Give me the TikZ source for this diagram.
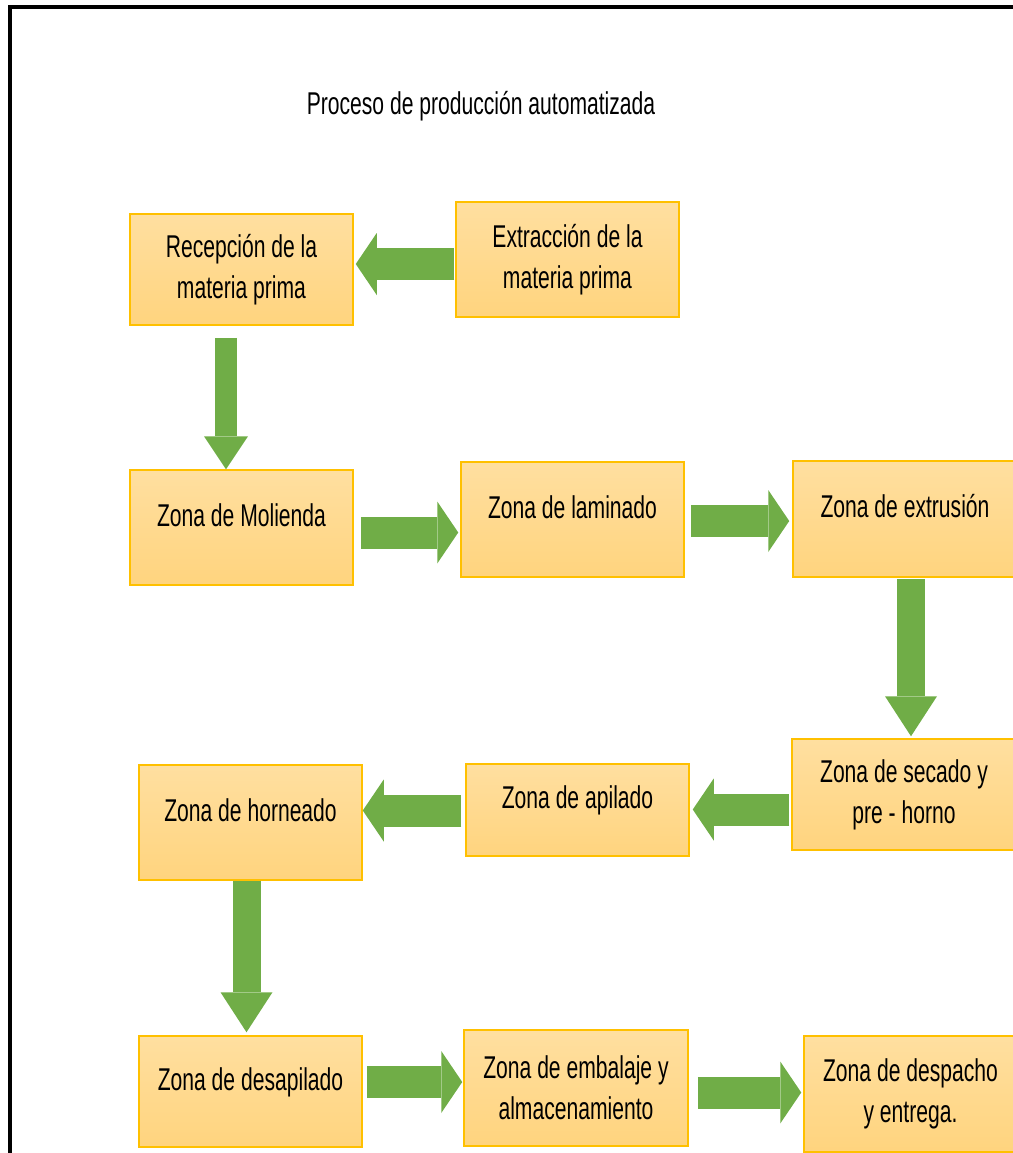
\documentclass[tikz,border=0pt]{standalone}
\usepackage{fontspec}
\setmainfont{Liberation Sans}[FakeStretch=0.67]
\usetikzlibrary{arrows.meta}
\definecolor{verde}{HTML}{70AD47}
\definecolor{oroborde}{HTML}{FFC000}
\definecolor{oroarriba}{HTML}{FFDFA0}
\definecolor{oroabajo}{HTML}{FFD47E}
\tikzset{
  zona/.style={draw=oroborde, line width=0.75pt, top color=oroarriba, bottom color=oroabajo,
    inner sep=0pt, minimum width=111.5pt, align=center},
  una/.style={text height=11.5pt, text depth=12.7pt},
  flecha/.style={draw=verde, line width=16pt, -{Triangle[width=31pt,length=10.5pt,line width=0pt]}},
  bajada/.style={draw=verde, line width=14pt, -{Triangle[width=26pt,length=20pt,line width=0pt]}},
  bajadauno/.style={draw=verde, line width=11pt, -{Triangle[width=22pt,length=16.5pt,line width=0pt]}}
}
\begin{document}
\begin{tikzpicture}[x=0.5pt, y=-0.5pt, font=\fontsize{15.75}{20.5}\selectfont]
        \useasboundingbox (0,0) rectangle (1013,1153);
        \clip (0,0) rectangle (1013,1153);
        \draw[line width=2pt] (10,7) rectangle (1100,1250);

        \node (titulo) at (481,106) {Proceso de producción automatizada};

        \node[zona, minimum height=55.5pt] (recepcion) at (241.5,269.5) {Recepción de la\\materia prima};
        \node[zona, minimum height=57.5pt] (extraccion) at (567.5,259.5) {Extracción de la\\materia prima};

        \node[zona, una, minimum height=57.5pt] (molienda) at (241.5,527.5) {Zona de Molienda};
        \node[zona, una, minimum height=57.5pt] (laminado) at (572.5,519.5) {Zona de laminado};
        \node[zona, una, minimum height=58pt, minimum width=112pt] (extrusion) at (905,519) {Zona de extrusión};

        \node[zona, minimum height=55.5pt, minimum width=112pt] (secado) at (904,794.5) {Zona de secado y\\pre - horno};
        \node[zona, una, minimum height=46pt] (apilado) at (577.5,810) {Zona de apilado};
        \node[zona, una, minimum height=57.5pt] (horneado) at (250.5,822.5) {Zona de horneado};

        \node[zona, una, minimum height=55.5pt] (desapilado) at (250.5,1091.5) {Zona de desapilado};
        \node[zona, minimum height=58pt, minimum width=112pt] (embalaje) at (576,1088) {Zona de embalaje y\\almacenamiento};
        \node[zona, minimum height=58pt, minimum width=106.5pt] (despacho) at (910.5,1094) {Zona de despacho\\y entrega.};

        \draw[flecha] ([shift={(-1,4.5)}]extraccion.west) -- ([shift={(2,-5.5)}]recepcion.east);
        \draw[bajadauno] ([shift={(-15.5,12)}]recepcion.south) -- ([shift={(-15.5,0)}]molienda.north);
        \draw[flecha] ([shift={(7,5)}]molienda.east) -- ([shift={(-2,13)}]laminado.west);
        \draw[flecha] ([shift={(6,1.5)}]laminado.east) -- ([shift={(-3,2)}]extrusion.west);
        \draw[bajada] ([shift={(6,1)}]extrusion.south) -- ([shift={(7,-2)}]secado.north);
        \draw[flecha] ([shift={(-2,15)}]secado.west) -- ([shift={(3,-0.5)}]apilado.east);
        \draw[flecha] ([shift={(-4,0.5)}]apilado.west) -- ([shift={(0,-12)}]horneado.east);
        \draw[bajada] ([shift={(-4,0)}]horneado.south) -- ([shift={(-4,-3)}]desapilado.north);
        \draw[flecha] ([shift={(4,-9.5)}]desapilado.east) -- ([shift={(-1,-6)}]embalaje.west);
        \draw[flecha] ([shift={(9,4.5)}]embalaje.east) -- ([shift={(-2,-1.5)}]despacho.west);
\end{tikzpicture}
\end{document}
